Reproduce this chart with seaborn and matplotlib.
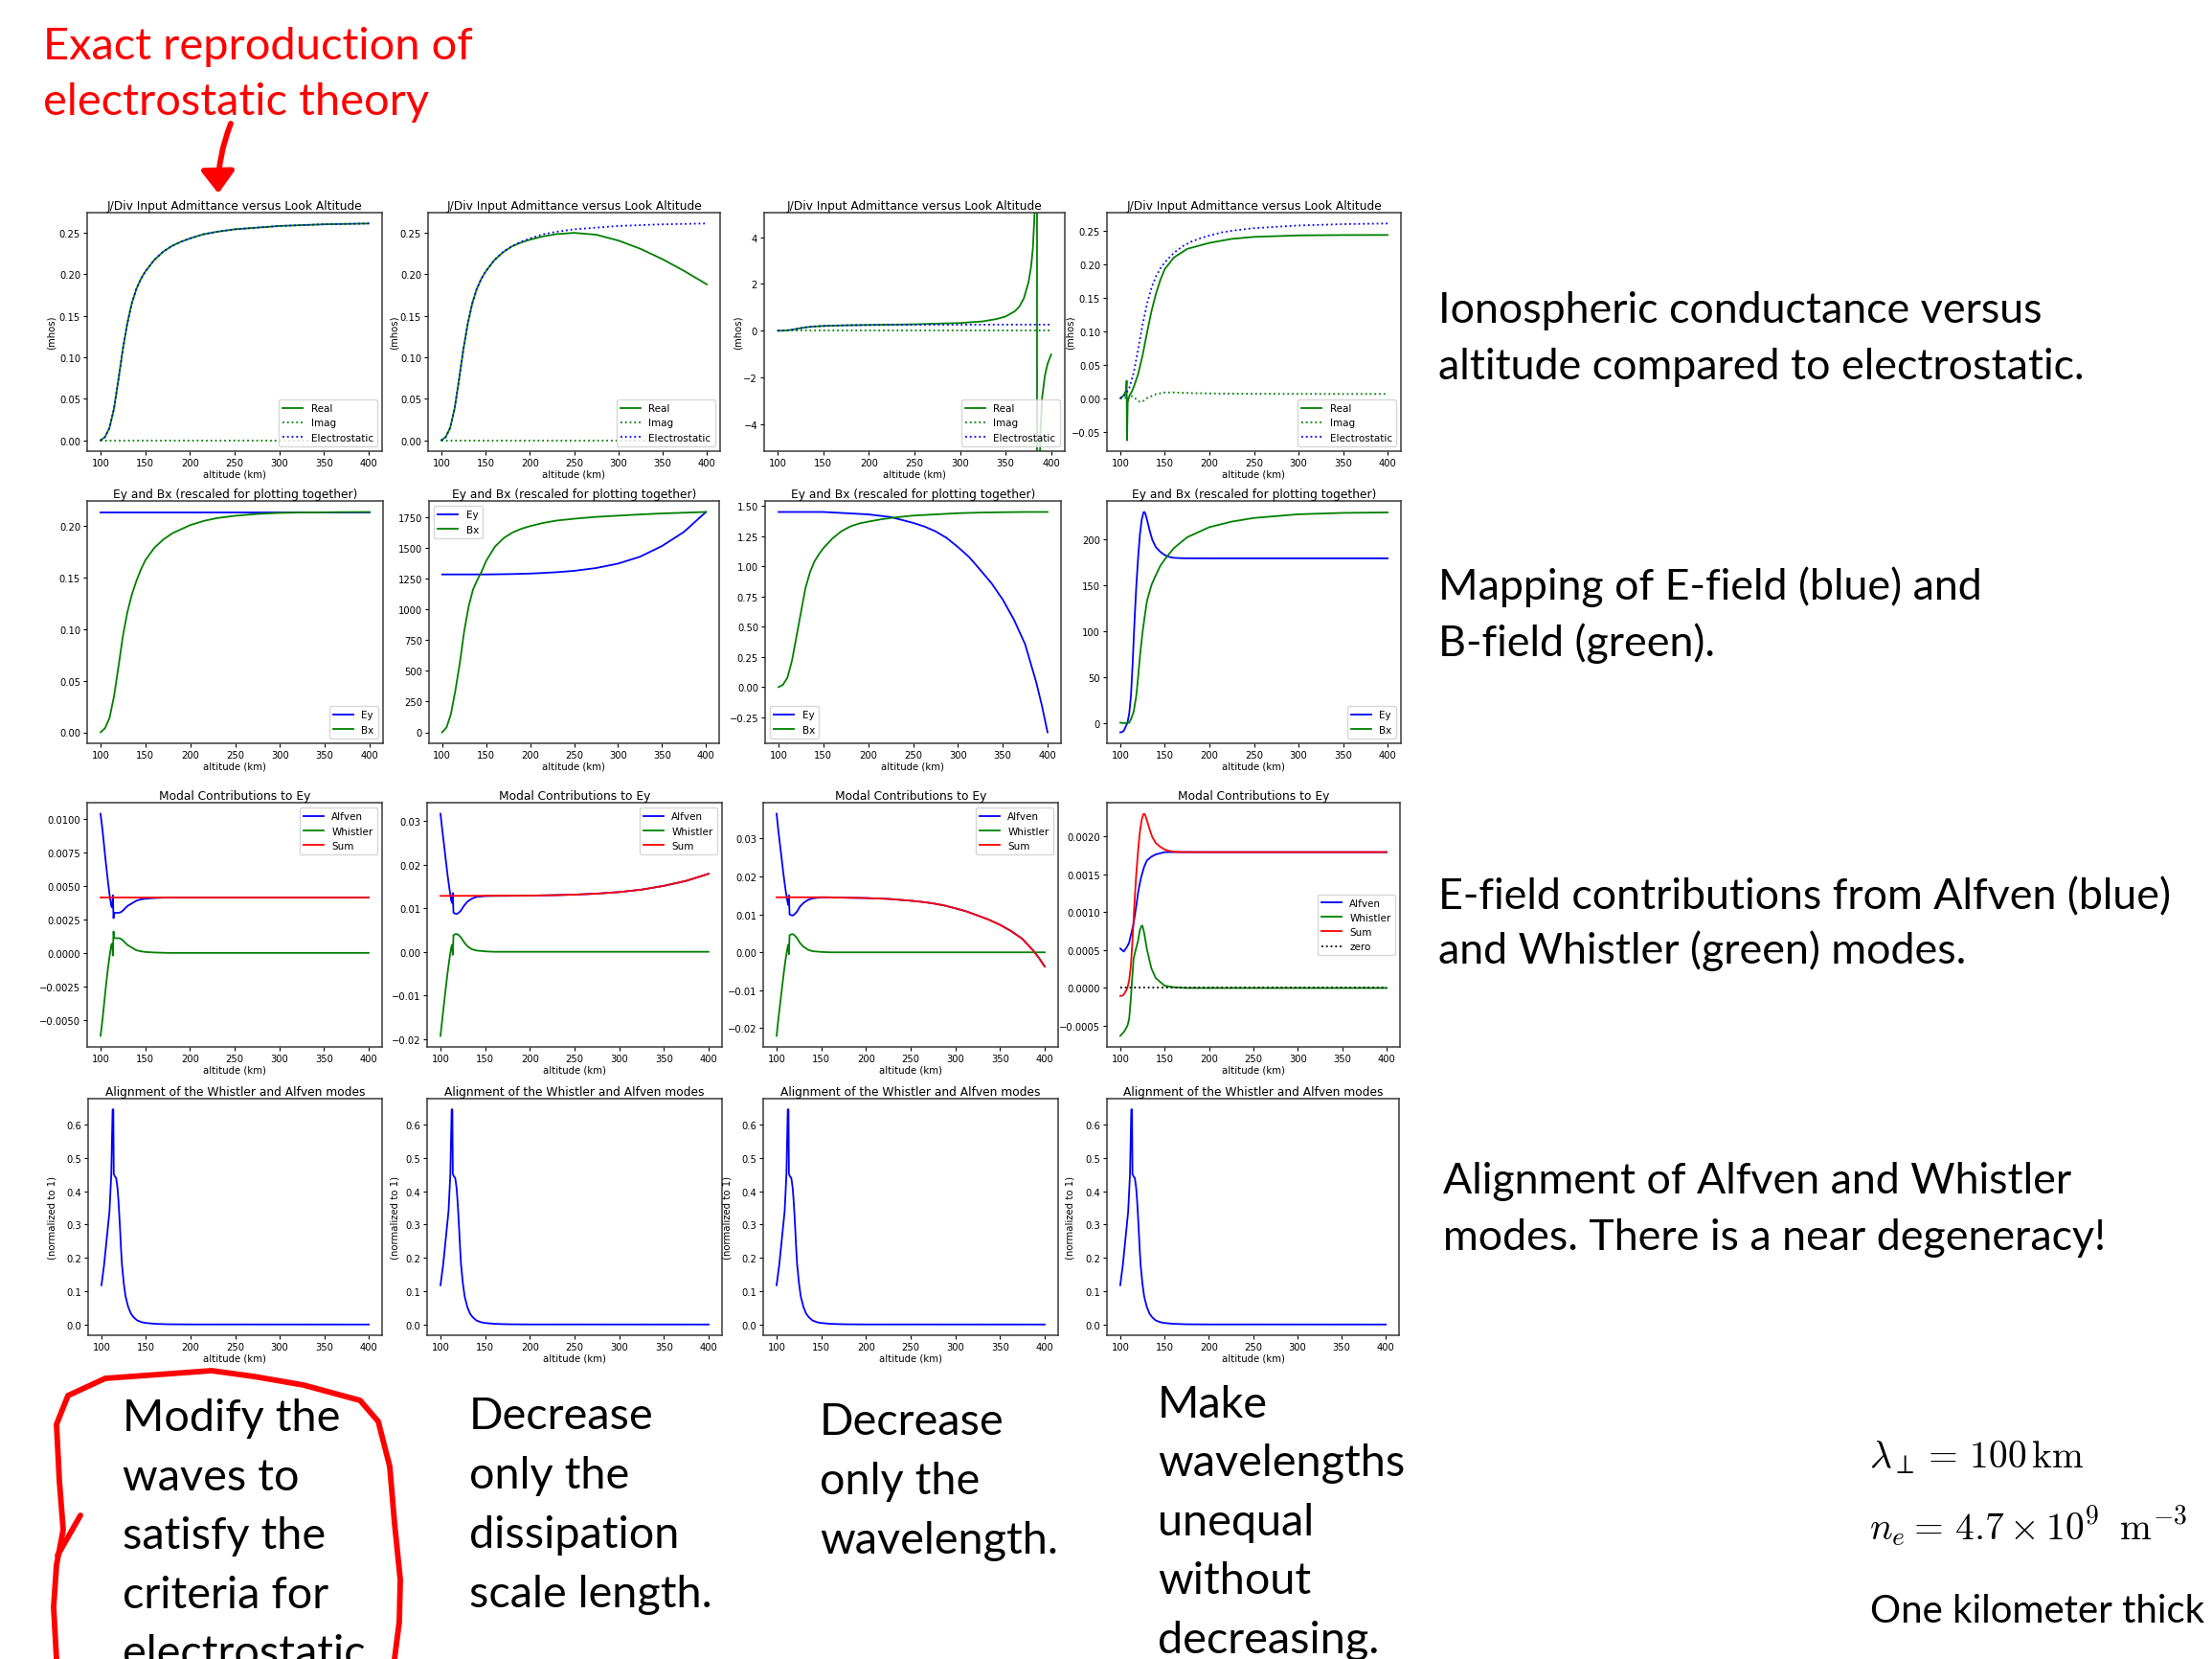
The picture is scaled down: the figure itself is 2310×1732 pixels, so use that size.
import matplotlib
matplotlib.use("Agg")
import matplotlib.pyplot as plt
from matplotlib.lines import Line2D
from matplotlib.patches import FancyArrowPatch
import seaborn as sns

W, H, DPI = 2310, 1733, 100

# ---------------------------------------------------------------- data
alt = [100, 105, 110, 115, 120, 125, 130, 135, 140, 145, 150, 160, 170, 180,
       190, 200, 215, 230, 250, 275, 300, 325, 350, 375, 400]
span = [100, 400]
flat_zero = [0.0, 0.0]

# row 1: J/Div input admittance (mhos)
es_cond = [0.000, 0.004, 0.015, 0.038, 0.073, 0.110, 0.141, 0.165, 0.182, 0.194,
           0.203, 0.217, 0.227, 0.234, 0.239, 0.243, 0.248, 0.251, 0.254, 0.256,
           0.258, 0.259, 0.260, 0.2605, 0.261]
real_a = es_cond
real_b = [0.000, 0.004, 0.015, 0.038, 0.073, 0.110, 0.141, 0.165, 0.182, 0.194,
          0.203, 0.217, 0.2265, 0.2335, 0.238, 0.2415, 0.2455, 0.2482, 0.2497,
          0.2475, 0.2405, 0.2305, 0.2180, 0.2035, 0.1877]
alt_c = [100, 105, 110, 115, 120, 125, 130, 135, 140, 150, 160, 180, 200, 250,
         300, 325, 340, 350, 360, 365, 370, 375, 378, 380, 382, 383.5, 384.4,
         384.6, 386, 388, 390, 393, 396, 400]
real_c = [0.000, 0.004, 0.015, 0.038, 0.073, 0.110, 0.141, 0.165, 0.182, 0.204,
          0.218, 0.236, 0.247, 0.275, 0.330, 0.400, 0.500, 0.610, 0.830, 1.030,
          1.380, 2.050, 2.750, 3.550, 5.200, 9.000, 40.0, -40.0, -10.5, -4.6,
          -2.9, -1.95, -1.42, -1.02]
alt_d = [100, 103, 105, 106.5, 107.1, 107.5, 108.3, 110, 113, 116, 120, 125, 130,
         135, 140, 145, 150, 160, 175, 200, 225, 250, 300, 350, 400]
real_d = [0.000, 0.003, 0.007, 0.012, 0.026, -0.063, -0.006, 0.003, 0.010, 0.020,
          0.036, 0.064, 0.098, 0.130, 0.156, 0.177, 0.193, 0.210, 0.223, 0.232,
          0.238, 0.241, 0.2432, 0.2437, 0.2438]
alt_d_imag = [100, 104, 107, 108, 110, 114, 118, 122, 126, 130, 140, 150, 160,
              180, 200, 250, 300, 400]
imag_d = [0.000, -0.001, 0.002, -0.001, 0.002, 0.003, -0.002, -0.0055, -0.004,
          0.000, 0.006, 0.0085, 0.0085, 0.0075, 0.007, 0.0065, 0.0063, 0.0062]

# row 2: Ey and Bx (rescaled)
ey_a = [0.2137, 0.2137]
bx_a = [0.000, 0.004, 0.014, 0.035, 0.064, 0.094, 0.117, 0.134, 0.147, 0.158,
        0.167, 0.179, 0.187, 0.193, 0.197, 0.2010, 0.2050, 0.2078, 0.2100,
        0.2118, 0.2128, 0.2132, 0.2134, 0.2136, 0.2137]
ey_b = [1284, 1284, 1284, 1284, 1284, 1284, 1284, 1284, 1284, 1284, 1284, 1285,
        1286, 1287, 1289, 1291, 1296, 1302, 1313, 1336, 1372, 1428, 1515, 1630,
        1792]
bx_b = [0, 40, 150, 340, 560, 820, 1020, 1160, 1240, 1310, 1394, 1510, 1580,
        1625, 1655, 1677, 1703, 1722, 1737, 1752, 1762, 1772, 1780, 1786, 1792]
alt_ey_c = [100, 150, 175, 200, 225, 250, 262.5, 275, 287.5, 300, 312.5, 325,
            337.5, 350, 362.5, 375, 387.5, 393.75, 400]
ey_c = [1.450, 1.450, 1.440, 1.430, 1.408, 1.360, 1.330, 1.290, 1.235, 1.160,
        1.077, 0.970, 0.860, 0.725, 0.559, 0.355, 0.037, -0.155, -0.374]
bx_c = [0.000, 0.020, 0.080, 0.220, 0.420, 0.620, 0.820, 0.950, 1.040, 1.100,
        1.150, 1.230, 1.290, 1.330, 1.355, 1.370, 1.390, 1.405, 1.420, 1.430,
        1.440, 1.445, 1.448, 1.450, 1.450]
alt_ey_d = [100, 102, 104, 106, 108, 110, 112, 114, 116, 118, 120, 122, 124, 126,
            127, 128, 130, 133, 136, 140, 145, 150, 155, 160, 170, 200, 400]
ey_d = [-10.4, -10.2, -8.5, -4.5, 0.0, 10, 30, 68, 112, 150, 180, 205, 221, 229,
        229.5, 228, 221, 209, 199, 191, 186, 182.5, 180.5, 179.6, 179.1, 179.0,
        179.0]
alt_bx_d = [100, 105, 110, 112, 115, 118, 120, 122, 125, 128, 130, 135, 140, 145,
            150, 160, 175, 200, 225, 250, 300, 350, 400]
bx_d = [0, -0.5, 0, 4, 12, 30, 50, 72, 99, 120, 133, 150, 161, 171, 178, 190,
        202, 213, 219, 223, 227, 228.5, 229]

# row 3: modal contributions to Ey
alt_mode_a = [100, 102, 104, 106, 108, 110, 112, 113, 113.8, 114.5, 115, 116, 118,
              121, 124, 127, 130, 135, 140, 145, 150, 160, 175, 400]
alfven_a = [0.0104, 0.0093, 0.0080, 0.0067, 0.0055, 0.0044, 0.0035, 0.0034,
            0.0043, 0.0026, 0.0029, 0.0030, 0.0030, 0.0030, 0.0031, 0.0033,
            0.0035, 0.0037, 0.0039, 0.0040, 0.00405, 0.0041, 0.00414, 0.00414]
whistler_a = [-0.0062, -0.0051, -0.0038, -0.0025, -0.0013, -0.0003, 0.0006,
              0.0007, -0.0002, 0.0016, 0.0012, 0.0011, 0.0011, 0.0011, 0.0010,
              0.0008, 0.0006, 0.0004, 0.0002, 0.00012, 0.00007, 0.00003, 0.0, 0.0]
sum_a = [0.00414, 0.00414]

alt_mode_b = [100, 102, 104, 106, 108, 110, 112, 113, 113.8, 114.5, 116, 118, 120,
              123, 126, 130, 135, 140, 150, 160, 175, 200, 215, 230, 250, 275, 300,
              325, 350, 375, 400]
alfven_b = [0.0317, 0.0280, 0.0245, 0.0210, 0.0175, 0.0145, 0.0118, 0.0112, 0.0135,
            0.0090, 0.0088, 0.0087, 0.0089, 0.0095, 0.0105, 0.0115, 0.0122, 0.0126,
            0.0128, 0.01284, 0.01285, 0.01291, 0.01296, 0.01302, 0.01313, 0.01336,
            0.01372, 0.01428, 0.01515, 0.01630, 0.01792]
whistler_b = [-0.0193, -0.0155, -0.0118, -0.0082, -0.0047, -0.0017, 0.0010, 0.0016,
              -0.0007, 0.0038, 0.0040, 0.0041, 0.0039, 0.0033, 0.0023, 0.0013,
              0.0006, 0.0003, 0.0001, 0.0, 0.0, 0.0, 0.0, 0.0, 0.0, 0.0, 0.0, 0.0,
              0.0, 0.0, 0.0]
alt_sum_b = [100, 200, 215, 230, 250, 275, 300, 325, 350, 375, 400]
sum_b = [0.01284, 0.01291, 0.01296, 0.01302, 0.01313, 0.01336, 0.01372, 0.01428,
         0.01515, 0.01630, 0.01792]

alt_mode_c = [100, 102, 104, 106, 108, 110, 112, 113, 113.8, 114.5, 116, 118, 120,
              123, 126, 130, 135, 140, 150, 160, 175, 200, 225, 250, 262.5, 275,
              287.5, 300, 312.5, 325, 337.5, 350, 362.5, 375, 387.5, 393.75, 400]
alfven_c = [0.0365, 0.0320, 0.0280, 0.0240, 0.0200, 0.0165, 0.0135, 0.0125, 0.0150,
            0.0100, 0.0098, 0.0097, 0.0100, 0.0108, 0.0120, 0.0130, 0.0138, 0.0142,
            0.0145, 0.0145, 0.0144, 0.0143, 0.01408, 0.0136, 0.0133, 0.0129,
            0.01235, 0.0116, 0.01077, 0.0097, 0.0086, 0.00725, 0.00559, 0.00355,
            0.00037, -0.00155, -0.00374]
whistler_c = [-0.0220, -0.0175, -0.0135, -0.0095, -0.0055, -0.0020, 0.0010, 0.0020,
              -0.0005, 0.0045, 0.0047, 0.0048, 0.0045, 0.0037, 0.0025, 0.0015,
              0.0007, 0.0003, 0.0001, 0.0, 0.0, 0.0, 0.0, 0.0, 0.0, 0.0, 0.0, 0.0,
              0.0, 0.0, 0.0, 0.0, 0.0, 0.0, 0.0, 0.0, 0.0]
sum_c = [0.0145, 0.0145, 0.0144, 0.0143, 0.01408, 0.0136, 0.0133, 0.0129, 0.01235,
         0.0116, 0.01077, 0.0097, 0.0086, 0.00725, 0.00559, 0.00355, 0.00037,
         -0.00155, -0.00374]

alt_mode_d = [100, 104, 108, 110, 112, 115, 118, 120, 122, 124, 125, 127, 130, 135,
              140, 150, 160, 175, 200, 400]
alfven_d = [0.00052, 0.00048, 0.00055, 0.00060, 0.00070, 0.00085, 0.00108, 0.00125,
            0.00138, 0.00148, 0.00152, 0.00160, 0.00168, 0.00173, 0.00176, 0.00179,
            0.00179, 0.00179, 0.00179, 0.00179]
whistler_d = [-0.00063, -0.00058, -0.00050, -0.00041, -0.00012, 0.00039, 0.00053,
              0.00062, 0.00076, 0.00082, 0.00082, 0.00072, 0.00051, 0.00026,
              0.00013, 0.00003, 0.00001, 0.0, 0.0, 0.0]
sum_d = [-0.000104, -0.000102, -0.000085, -0.000045, 0.0, 0.0001, 0.0003, 0.00068,
         0.00112, 0.0015, 0.0018, 0.00205, 0.00221, 0.00229, 0.002295, 0.00228,
         0.00221, 0.00209, 0.00199, 0.00191, 0.00186, 0.001825, 0.001805, 0.001796,
         0.001791, 0.00179, 0.00179]

# row 4: alignment of the whistler and Alfven modes (normalized to 1)
alt_align = [100, 103, 106, 109, 111, 112.5, 113.3, 113.8, 115, 116.5, 118, 119,
             120, 121, 122, 123, 125, 127, 130, 133, 136, 140, 145, 150, 160, 175,
             200, 400]
align_a = [0.118, 0.18, 0.26, 0.34, 0.45, 0.646, 0.646, 0.452, 0.445, 0.44, 0.41,
           0.375, 0.33, 0.28, 0.225, 0.18, 0.125, 0.085, 0.053, 0.033, 0.022,
           0.0125, 0.007, 0.0045, 0.002, 0.0007, 0.0002, 0.0]
align_b = [0.118, 0.18, 0.26, 0.34, 0.45, 0.646, 0.646, 0.452, 0.445, 0.44, 0.41,
           0.375, 0.33, 0.28, 0.225, 0.18, 0.125, 0.085, 0.053, 0.033, 0.022,
           0.0125, 0.007, 0.0045, 0.002, 0.0007, 0.0002, 0.0]
align_c = [0.118, 0.18, 0.26, 0.34, 0.45, 0.646, 0.646, 0.452, 0.445, 0.44, 0.41,
           0.375, 0.33, 0.28, 0.225, 0.18, 0.125, 0.085, 0.053, 0.033, 0.022,
           0.0125, 0.007, 0.0045, 0.002, 0.0007, 0.0002, 0.0]
align_d = [0.118, 0.18, 0.26, 0.34, 0.45, 0.646, 0.646, 0.452, 0.445, 0.44, 0.41,
           0.375, 0.33, 0.28, 0.225, 0.18, 0.125, 0.085, 0.053, 0.033, 0.022,
           0.0125, 0.007, 0.0045, 0.002, 0.0007, 0.0002, 0.0]

# ---------------------------------------------------------------- layout
plt.rcParams["font.family"] = "DejaVu Sans"
plt.rcParams["mathtext.fontset"] = "cm"
fig = plt.figure(figsize=(W / DPI, H / DPI), dpi=DPI)
fig.patch.set_facecolor("white")

# panel boxes in pixels: left, top, right, bottom
rows_tb = [(223, 472), (524, 777), (839, 1094), (1148, 1395)]
cols_lr = [[(91, 399), (447, 752), (798, 1112), (1156, 1463)],
           [(91, 400), (448, 751), (799, 1108), (1156, 1463)],
           [(91, 399), (446, 754), (797, 1105), (1156, 1462)],
           [(92, 399), (446, 754), (797, 1105), (1156, 1461)]]
ylab_x = [[-0.104, -0.098, -0.07, -0.11], None, None,
          [-0.107, -0.094, -0.107, -0.11]]


def panel(r, c):
    t, b = rows_tb[r]
    l, rr = cols_lr[r][c]
    ax = fig.add_axes([l / W, 1 - b / H, (rr - l) / W, (b - t) / H])
    return ax


def trace(ax, x, y, color, label, ls="-"):
    sns.lineplot(x=x, y=y, ax=ax, color=color, label=label, linestyle=ls,
                 linewidth=1.3, sort=False, estimator=None)


def finish(ax, r, c, title, legend_loc, ylabel=None):
    ax.set_title(title, fontsize=8.8, pad=3)
    ax.set_xlabel("altitude (km)", fontsize=7.3, labelpad=1)
    ax.set_ylabel(ylabel if ylabel else "", fontsize=7.3)
    if ylabel:
        ax.yaxis.set_label_coords(ylab_x[r][c], 0.5)
    ax.set_xlim(85, 415)
    ax.set_xticks([100, 150, 200, 250, 300, 350, 400])
    ax.tick_params(labelsize=7.2, length=3, width=0.8, pad=2)
    for s in ax.spines.values():
        s.set_linewidth(1.1)
        s.set_color("#3a3a3a")
    if legend_loc:
        ax.legend(loc=legend_loc, fontsize=7.5)
    elif ax.get_legend():
        ax.get_legend().remove()


title1 = "J/Div Input Admittance versus Look Altitude"
title2 = "Ey and Bx (rescaled for plotting together)"
title3 = "Modal Contributions to Ey"
title4 = "Alignment of the Whistler and Alfven modes"

# row 1
row1 = [(alt, real_a, span, flat_zero), (alt, real_b, span, flat_zero),
        (alt_c, real_c, span, flat_zero), (alt_d, real_d, alt_d_imag, imag_d)]
for c, (xr, yr, xi, yi) in enumerate(row1):
    ax = panel(0, c)
    trace(ax, xr, yr, "g", "Real")
    trace(ax, xi, yi, "g", "Imag", ":")
    trace(ax, alt, es_cond, "b", "Electrostatic", ":")
    if c == 2:
        ax.set_ylim(-5.15, 5.05)
    finish(ax, 0, c, title1, "lower right", "(mhos)")

# row 2
row2 = [(span, ey_a, alt, bx_a, "lower right"), (alt, ey_b, alt, bx_b, "upper left"),
        (alt_ey_c, ey_c, alt, bx_c, "lower left"),
        (alt_ey_d, ey_d, alt_bx_d, bx_d, "lower right")]
for c, (xe, ye, xb, yb, loc) in enumerate(row2):
    ax = panel(1, c)
    trace(ax, xe, ye, "b", "Ey")
    trace(ax, xb, yb, "g", "Bx")
    finish(ax, 1, c, title2, loc)

# row 3
row3 = [(alt_mode_a, alfven_a, whistler_a, span, sum_a),
        (alt_mode_b, alfven_b, whistler_b, alt_sum_b, sum_b),
        (alt_mode_c, alfven_c, whistler_c, alt_ey_c, sum_c),
        (alt_mode_d, alfven_d, whistler_d, alt_ey_d, sum_d)]
for c, (xm, ya, yw, xs, ys) in enumerate(row3):
    ax = panel(2, c)
    trace(ax, xm, ya, "b", "Alfven")
    trace(ax, xm, yw, "g", "Whistler")
    trace(ax, xs, ys, "r", "Sum")
    if c == 3:
        trace(ax, span, flat_zero, "k", "zero", ":")
        finish(ax, 2, c, title3, "center right")
    else:
        finish(ax, 2, c, title3, "upper right")

# row 4
for c, ya in enumerate([align_a, align_b, align_c, align_d]):
    ax = panel(3, c)
    trace(ax, alt_align, ya, "b", None)
    finish(ax, 3, c, title4, None, "(normalized to 1)")

# ---------------------------------------------------------------- slide text
renderer = fig.canvas.get_renderer()


def fit_size(s, width_px, family="Lato"):
    t = fig.text(0, 0, s, fontsize=30, family=family)
    w = t.get_window_extent(renderer).width
    t.remove()
    return 30 * width_px / w


def lines(x, baselines, texts, size, color="black", family="Lato"):
    for y, s in zip(baselines, texts):
        fig.text(x / W, 1 - y / H, s, fontsize=size, color=color, family=family,
                 ha="left", va="baseline")


red = "#ff0000"
head = ["Exact reproduction of", "electrostatic theory"]
lines(45, [62, 120], head, fit_size(head[0], 448), red)

side_size = fit_size("Ionospheric conductance versus", 631)
lines(1502, [337, 396], ["Ionospheric conductance versus",
                         "altitude compared to electrostatic."], side_size)
lines(1502, [626, 685], ["Mapping of E-field (blue) and", "B-field (green)."], side_size)
lines(1502, [949, 1006], ["E-field contributions from Alfven (blue)",
                          "and Whistler (green) modes."], side_size)
lines(1507, [1246, 1305], ["Alignment of Alfven and Whistler",
                           "modes. There is a near degeneracy!"], side_size)

bottom_size = fit_size("Modify the", 227)
lines(128, [1494, 1556, 1617, 1679, 1740],
      ["Modify the", "waves to", "satisfy the", "criteria for", "electrostatic"],
      bottom_size)
lines(490, [1492, 1554, 1616, 1678],
      ["Decrease", "only the", "dissipation", "scale length."], bottom_size)
lines(856, [1498, 1560, 1622], ["Decrease", "only the", "wavelength."], bottom_size)
lines(1209, [1480, 1541, 1603, 1664, 1726],
      ["Make", "wavelengths", "unequal", "without", "decreasing."], bottom_size)

math1 = r"$\lambda_{\perp} = \,100\,\mathrm{km}$"
msize = fit_size(math1, 225)
fig.text(1952 / W, 1 - 1532 / H, math1, fontsize=msize, ha="left", va="baseline")
fig.text(1952 / W, 1 - 1608 / H,
         r"$n_e = \,4.7\times10^{9}\;\;\mathrm{m}^{-3}$",
         fontsize=msize, ha="left", va="baseline")
lines(1953, [1694], ["One kilometer thick"], fit_size("One kilometer thick", 348))

# red arrow under the heading
px = lambda x, y: (x / W, 1 - y / H)
arrow = FancyArrowPatch(px(241, 130), px(228, 203), transform=fig.transFigure,
                        connectionstyle="arc3,rad=0.1",
                        arrowstyle="-|>,head_length=1.4,head_width=1.05",
                        mutation_scale=10, color=red, lw=4.2,
                        shrinkA=0, shrinkB=0)
fig.add_artist(arrow)

# hand-drawn loop around the first bottom note
loop = [(59, 1733), (56, 1679), (59, 1635), (66, 1598), (62, 1547), (59, 1488),
        (71, 1458), (110, 1440), (221, 1432), (265, 1438), (317, 1447),
        (376, 1463), (395, 1485), (407, 1532), (412, 1591), (418, 1650),
        (417, 1694), (412, 1733)]
fig.add_artist(Line2D([p[0] / W for p in loop], [1 - p[1] / H for p in loop],
                      transform=fig.transFigure, color=red, lw=4.2,
                      solid_joinstyle="round", solid_capstyle="round"))
tick_mark = [(84, 1583), (60, 1625)]
fig.add_artist(Line2D([p[0] / W for p in tick_mark], [1 - p[1] / H for p in tick_mark],
                      transform=fig.transFigure, color=red, lw=4.2,
                      solid_capstyle="round"))

fig.savefig("out.png", dpi=DPI, facecolor="white")
